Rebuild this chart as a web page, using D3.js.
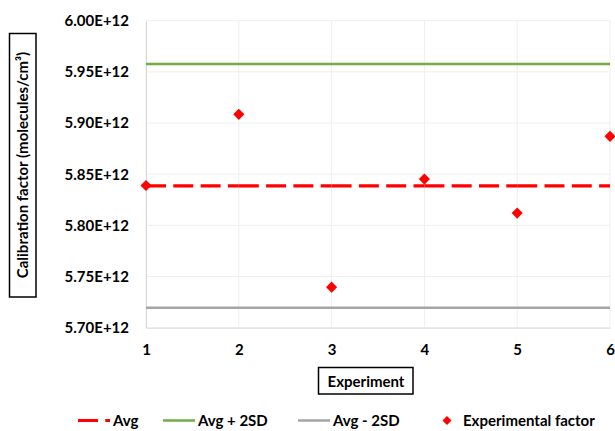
<!DOCTYPE html>
<html>
<head>
<meta charset="utf-8">
<script src="https://cdn.jsdelivr.net/npm/d3@7"></script>
<style>
  html, body { margin: 0; padding: 0; background: #fff; }
  svg { display: block; }
  text { font-family: Lato, "Open Sans", sans-serif; fill: #000; }
</style>
</head>
<body>
<script>
// ---- data ----
const experiments = [1, 2, 3, 4, 5, 6];
const factorValues = [5.839e12, 5.9085e12, 5.7396e12, 5.8452e12, 5.812e12, 5.887e12];
const avgValue = 5.8386e12;
const avgPlus2SD = 5.9578e12;
const avgMinus2SD = 5.7194e12;
const yTicks = [5.70e12, 5.75e12, 5.80e12, 5.85e12, 5.90e12, 5.95e12, 6.00e12];
const xTicks = [1, 2, 3, 4, 5, 6];
const legendLabels = ["Avg", "Avg + 2SD", "Avg - 2SD", "Experimental factor"];
const xTitle = "Experiment";
const yTitle = "Calibration factor (molecules/cm³)";

// ---- layout ----
const W = 615, H = 431;
const plot = { left: 146, right: 610, top: 20.7, bottom: 327.7 };
const colors = { avg: "#ff0000", plus: "#70ad47", minus: "#a5a5a5", pt: "#ff0000" };

const svg = d3.select("body").append("svg").attr("width", W).attr("height", H);

const x = d3.scaleLinear().domain([1, 6]).range([plot.left, plot.right]);
const y = d3.scaleLinear().domain([5.70e12, 6.00e12]).range([plot.bottom, plot.top]);
const fmt = v => (v / 1e12).toFixed(2) + "E+12";

// gridlines
const grid = svg.append("g");
grid.selectAll("line.h").data(yTicks).join("line")
  .attr("x1", plot.left).attr("x2", plot.right)
  .attr("y1", d => y(d)).attr("y2", d => y(d))
  .attr("stroke", "#efefef").attr("stroke-width", 1);
grid.selectAll("line.v").data(xTicks).join("line")
  .attr("x1", d => x(d)).attr("x2", d => x(d))
  .attr("y1", plot.top).attr("y2", plot.bottom)
  .attr("stroke", "#efefef").attr("stroke-width", 1);

// axes (via d3 axes, lines styled light)
const yAxis = svg.append("g").attr("transform", `translate(${plot.left},0)`)
  .call(d3.axisLeft(y).tickValues(yTicks).tickFormat(fmt).tickSize(0).tickPadding(17));
yAxis.select(".domain").attr("stroke", "#d9d9d9");
yAxis.selectAll("text").attr("font-size", 15).attr("font-weight", "bold")
  .attr("font-family", "Lato, sans-serif");

const xAxis = svg.append("g").attr("transform", `translate(0,${plot.bottom})`)
  .call(d3.axisBottom(x).tickValues(xTicks).tickFormat(d3.format("d")).tickSize(0).tickPadding(17));
xAxis.select(".domain").attr("stroke", "#d9d9d9");
xAxis.selectAll("text").attr("font-size", 15).attr("font-weight", "bold")
  .attr("font-family", "Lato, sans-serif");

// reference lines
const lineGen = d3.line().x(d => x(d[0])).y(d => y(d[1]));
svg.append("path")
  .attr("d", lineGen([[experiments[0], avgPlus2SD], [experiments[experiments.length - 1], avgPlus2SD]]))
  .attr("stroke", colors.plus).attr("stroke-width", 2.5).attr("fill", "none");
svg.append("path")
  .attr("d", lineGen([[experiments[0], avgMinus2SD], [experiments[experiments.length - 1], avgMinus2SD]]))
  .attr("stroke", colors.minus).attr("stroke-width", 2.5).attr("fill", "none");

// avg dashed line: segment per experiment pair (dash restarts at each point)
const avgSegs = d3.pairs(experiments);
svg.selectAll("path.avg").data(avgSegs).join("path")
  .attr("class", "avg")
  .attr("d", d => lineGen([[d[0], avgValue], [d[1], avgValue]]))
  .attr("stroke", colors.avg).attr("stroke-width", 3.2)
  .attr("stroke-dasharray", "20,7.3").attr("fill", "none");

// diamonds
const diamond = d3.symbol().type(d3.symbolSquare).size(62);
svg.selectAll("path.pt").data(experiments.map((e, i) => [e, factorValues[i]])).join("path")
  .attr("class", "pt")
  .attr("d", diamond)
  .attr("transform", d => `translate(${x(d[0])},${y(d[1])}) rotate(45)`)
  .attr("fill", colors.pt);

// y title with box
const yT = svg.append("g");
yT.append("rect").attr("x", 9.5).attr("y", 33.5).attr("width", 26.5).attr("height", 263.5)
  .attr("fill", "none").attr("stroke", "#000").attr("stroke-width", 1.5);
yT.append("text")
  .attr("transform", "translate(28,165) rotate(-90)")
  .attr("text-anchor", "middle")
  .attr("font-size", 15).attr("font-weight", "bold")
  .text(yTitle);

// x title with box
const xT = svg.append("g");
xT.append("rect").attr("x", 318.5).attr("y", 367.5).attr("width", 94.5).attr("height", 26.5)
  .attr("fill", "none").attr("stroke", "#000").attr("stroke-width", 1.5);
xT.append("text")
  .attr("x", 366).attr("y", 386.5)
  .attr("text-anchor", "middle")
  .attr("font-size", 15).attr("font-weight", "bold")
  .text(xTitle);

// legend
const legendY = 420.5;
const legendItems = [
  { label: legendLabels[0], type: "dash", color: colors.avg, x0: 78 },
  { label: legendLabels[1], type: "line", color: colors.plus, x0: 163 },
  { label: legendLabels[2], type: "line", color: colors.minus, x0: 298 },
  { label: legendLabels[3], type: "marker", color: colors.pt, x0: 431 }
];
const lg = svg.append("g");
legendItems.forEach(it => {
  if (it.type === "dash") {
    lg.append("line").attr("x1", it.x0).attr("x2", it.x0 + 32)
      .attr("y1", legendY).attr("y2", legendY)
      .attr("stroke", it.color).attr("stroke-width", 3).attr("stroke-dasharray", "20,7.3");
  } else if (it.type === "line") {
    lg.append("line").attr("x1", it.x0).attr("x2", it.x0 + 32)
      .attr("y1", legendY).attr("y2", legendY)
      .attr("stroke", it.color).attr("stroke-width", 2.5);
  } else {
    lg.append("path").attr("d", d3.symbol().type(d3.symbolSquare).size(40)())
      .attr("transform", `translate(${it.x0 + 16},${legendY}) rotate(45)`)
      .attr("fill", it.color);
  }
  lg.append("text")
    .attr("x", it.x0 + (it.type === "marker" ? 32 : 35))
    .attr("y", legendY + 5.5)
    .attr("font-size", 15).attr("font-weight", "bold")
    .text(it.label);
});
</script>
</body>
</html>
